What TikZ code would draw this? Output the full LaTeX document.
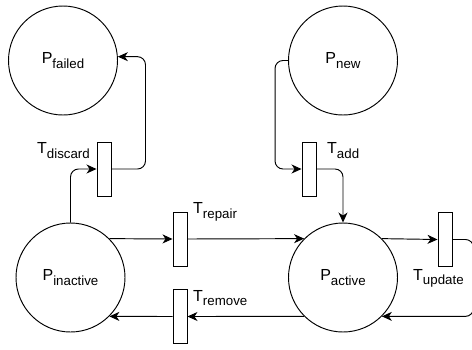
\documentclass[tikz,border=0pt]{standalone}
\usepackage{fontspec}
\setmainfont{Liberation Sans}
\usetikzlibrary{arrows.meta,calc}
\newcommand\subtxt[2]{#1\raisebox{-4.8pt}{\fontsize{13.3}{15}\selectfont #2}}
\begin{document}
\begin{tikzpicture}[x=1pt,y=-1pt,
  place/.style={draw,circle,line width=0.95pt,minimum size=109pt,inner sep=0pt,font=\fontsize{16}{19}\selectfont},
  trans/.style={draw,rectangle,line width=0.95pt,minimum width=14pt,minimum height=54pt,inner sep=0pt},
  tlabel/.style={inner sep=0pt,font=\fontsize{16}{19}\selectfont},
  arc/.style={line width=0.95pt,rounded corners=8pt,-{Stealth[length=10pt,width=9pt,inset=3pt]}}]
\useasboundingbox (0,0) rectangle (472,349);
% places
\node[place] (failed) at (63,60.5) {\subtxt{P}{failed}};
\node[place] (new) at (343,60.5) {\subtxt{P}{new}};
\node[place] (inactive) at (70.5,277.5) {\subtxt{P}{inactive}};
\node[place] (active) at (343,277.5) {\subtxt{P}{active}};
% transitions
\node[trans] (discard) at (104,169) {};
\node[trans] (add) at (309,169) {};
\node[trans] (repair) at (180,239) {};
\node[trans] (remove) at (180,316.5) {};
\node[trans] (update) at (445,239.5) {};
% labels
\node[tlabel,anchor=base east] (ldiscard) at (90,153.5) {\subtxt{T}{discard}};
\node[tlabel,anchor=base west] (ladd) at (327,153.5) {\subtxt{T}{add}};
\node[tlabel,anchor=base west] (lrepair) at (193,213.5) {\subtxt{T}{repair}};
\node[tlabel,anchor=base west] (lremove) at (193,301) {\subtxt{T}{remove}};
\node[tlabel,anchor=base west] (lupdate) at (413,280) {\subtxt{T}{update}};
% arcs
\draw[arc] (inactive.north) |- (discard.west);
\draw[arc] (discard.east) -- ++(34,0) |- (failed.4);
\draw[arc] (new.west) -- ++(-13,0) |- (add.west);
\draw[arc] (add.east) -| (active.north);
\draw[arc] (inactive.45) -- (repair.west);
\draw[arc] (repair.east) -- (active.135);
\draw[arc] (active.45) -- (update.west);
\draw[arc] (update.east) -- ++(21,0) |- (active.-45);
\draw[arc] (active.-135) -- (remove.east);
\draw[arc] (remove.west) -- (inactive.-45);
\end{tikzpicture}
\end{document}
